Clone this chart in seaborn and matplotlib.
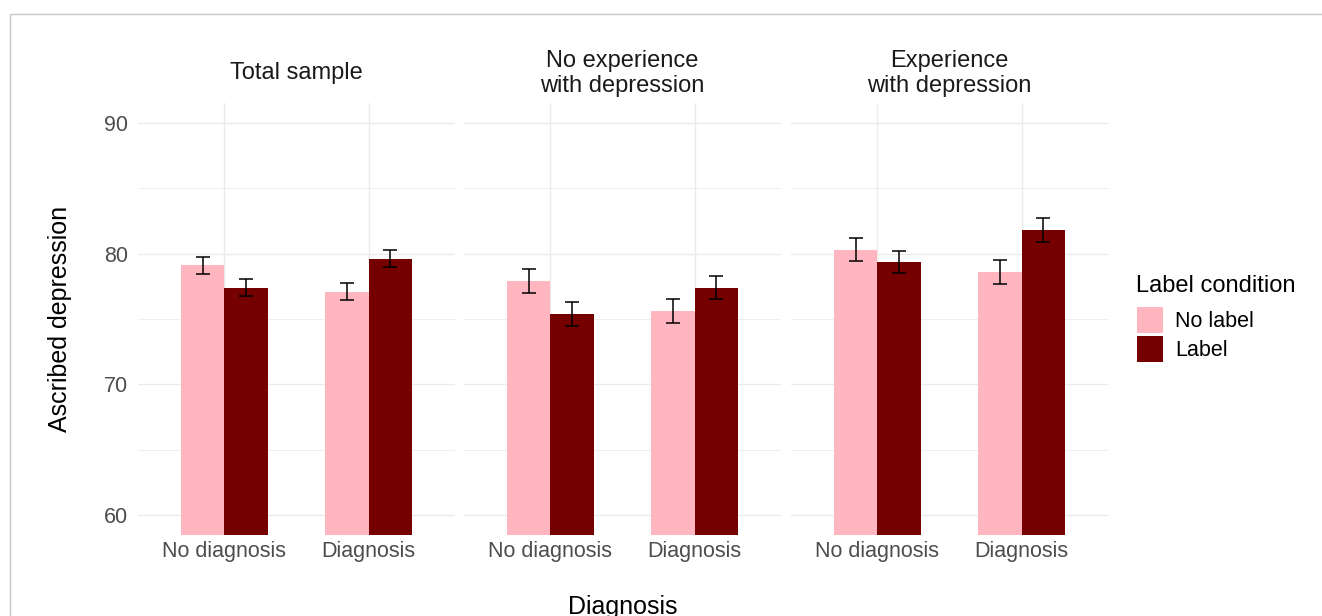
import numpy as np
import pandas as pd
import matplotlib
matplotlib.use("Agg")
import matplotlib.pyplot as plt
from matplotlib.patches import Patch
from matplotlib.lines import Line2D
import seaborn as sns

# ---- data ---------------------------------------------------------------
groups = ["Total sample", "No experience\nwith depression", "Experience\nwith depression"]
diagnosis = ["No diagnosis", "Diagnosis"]
label_levels = ["No label", "Label"]

# mean ascribed depression per group, [No diagnosis, Diagnosis]
mean_no_label = [[79.1, 77.1], [77.9, 75.6], [80.3, 78.6]]
mean_label = [[77.4, 79.6], [75.4, 77.4], [79.35, 81.8]]
# standard errors
se_no_label = [[0.66, 0.65], [0.90, 0.90], [0.89, 0.89]]
se_label = [[0.63, 0.64], [0.90, 0.90], [0.85, 0.89]]

y_ticks = [60, 70, 80, 90]
y_minor = [65, 75, 85]

palette = {"No label": "#FFB6C1", "Label": "#750000"}

rows = []
for g, group in enumerate(groups):
    for d, diag in enumerate(diagnosis):
        rows.append((group, diag, "No label", mean_no_label[g][d], se_no_label[g][d]))
        rows.append((group, diag, "Label", mean_label[g][d], se_label[g][d]))
df = pd.DataFrame(rows, columns=["group", "diagnosis", "label", "mean", "se"])

# ---- layout -------------------------------------------------------------
W, H = 1322, 616
sns.set_theme(style="white")
plt.rcParams["font.family"] = ["Liberation Sans", "DejaVu Sans"]

fig = plt.figure(figsize=(W / 100, H / 100), dpi=100)
fig.patch.set_facecolor("white")

panel_left = [138, 464, 791]
panel_w = 317
panel_top, panel_bottom = 103, 535

def px_rect(x0, y0, w, h):
    return [x0 / W, 1 - (y0 + h) / H, w / W, h / H]

grid_major = "#EBEBEB"
tick_color = "#4D4D4D"
text_color = "#1A1A1A"

for g, group in enumerate(groups):
    ax = fig.add_axes(px_rect(panel_left[g], panel_top, panel_w, panel_bottom - panel_top))
    sub = df[df["group"] == group]
    sns.barplot(data=sub, x="diagnosis", y="mean", hue="label",
                order=diagnosis, hue_order=label_levels, palette=palette,
                width=0.6, saturation=1, errorbar=None, legend=False,
                linewidth=0, ax=ax, zorder=2)

    # error bars at the centre of each drawn bar
    bars = ax.patches
    k = 0
    for lab in label_levels:
        for diag in diagnosis:
            row = sub[(sub["diagnosis"] == diag) & (sub["label"] == lab)].iloc[0]
            bar = bars[k]
            k += 1
            xc = bar.get_x() + bar.get_width() / 2
            ax.errorbar(xc, row["mean"], yerr=row["se"], fmt="none",
                        ecolor="black", elinewidth=1.1, capsize=5.0,
                        capthick=1.1, zorder=3)

    ax.set_xlim(-0.6, 1.6)
    ax.set_ylim(58.5, 91.5)
    ax.set_yticks(y_ticks)
    ax.set_yticks(y_minor, minor=True)
    ax.grid(True, which="major", axis="both", color=grid_major, linewidth=1.0, zorder=0)
    ax.grid(True, which="minor", axis="y", color=grid_major, linewidth=0.6, zorder=0)
    ax.set_axisbelow(True)
    for s in ax.spines.values():
        s.set_visible(False)
    ax.tick_params(axis="both", which="both", length=0)
    ax.tick_params(axis="x", pad=4, labelsize=15.5, labelcolor=tick_color)
    ax.tick_params(axis="y", pad=7, labelsize=15.5, labelcolor=tick_color)
    if g > 0:
        ax.set_yticklabels([])
    ax.set_xlabel("")
    ax.set_ylabel("")
    ax.set_facecolor("white")

    # facet strip title
    cx = (panel_left[g] + panel_w / 2) / W
    fig.text(cx, 1 - 73.5 / H, group, ha="center", va="center", fontsize=17,
             color=text_color, multialignment="center", linespacing=1.2)

# axis titles
fig.text((138 + 1108) / 2 / W, 1 - 595 / H, "Diagnosis", ha="center", va="top",
         fontsize=18, color="black")
fig.text(60 / W, 1 - 319 / H, "Ascribed depression", ha="center", va="center",
         rotation=90, fontsize=18, color="black")

# legend: title and keys
fig.text(1136 / W, 1 - 286 / H, "Label condition", ha="left", va="center",
         fontsize=17, color="black")
handles = [Patch(facecolor=palette[l], edgecolor="none", label=l) for l in label_levels]
leg = fig.legend(handles=handles, loc="upper left",
                 bbox_to_anchor=(1137 / W, 1 - 307 / H), frameon=False,
                 fontsize=15.5, borderpad=0, borderaxespad=0,
                 handlelength=1.21, handleheight=1.485, labelspacing=0.12,
                 handletextpad=0.56)
for t in leg.get_texts():
    t.set_color("black")

# outer frame lines (top and left)
fig.add_artist(Line2D([9.5 / W, 1.0], [1 - 13.5 / H] * 2, transform=fig.transFigure,
                      color="#C8C8C8", linewidth=1.0))
fig.add_artist(Line2D([9.5 / W] * 2, [0.0, 1 - 13.5 / H], transform=fig.transFigure,
                      color="#C8C8C8", linewidth=1.0))

fig.savefig("out.png", dpi=100, facecolor="white")
